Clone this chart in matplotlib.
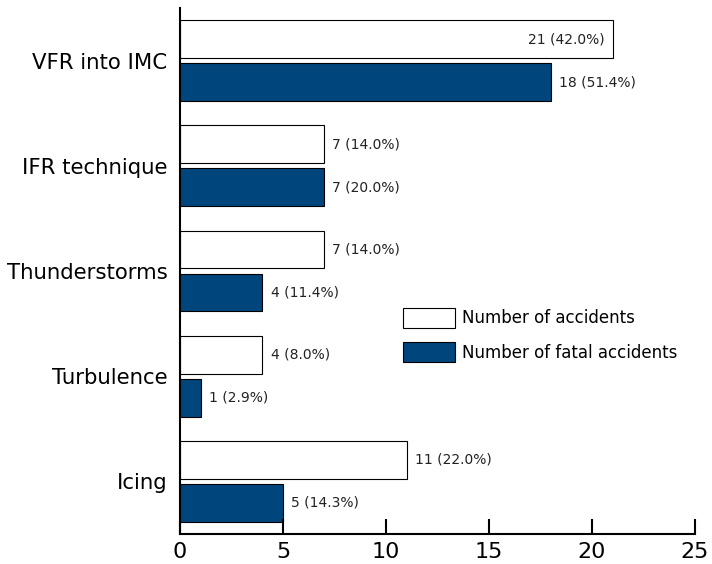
import numpy as np
import matplotlib
matplotlib.use("Agg")
from matplotlib import pyplot as plt

categories = ['VFR into IMC', 'IFR technique', 'Thunderstorms', 'Turbulence', 'Icing']
accidents = [21, 7, 7, 4, 11]
fatal = [18, 7, 4, 1, 5]
acc_pct = ['42.0%', '14.0%', '14.0%', '8.0%', '22.0%']
fatal_pct = ['51.4%', '20.0%', '11.4%', '2.9%', '14.3%']

navy = '#00457C'
plt.rcParams['font.family'] = ['DejaVu Sans']

fig = plt.figure(figsize=(7.12, 5.64), dpi=100)
ax = fig.add_axes([180/712, 1-534/564, 515/712, 526/564])

y = np.arange(len(categories))
h = 0.36
off = 0.204
ax.barh(y - off, accidents, height=h, color='white', edgecolor='black', linewidth=0.8,
        label='Number of accidents')
ax.barh(y + off, fatal, height=h, color=navy, edgecolor='black', linewidth=0.8,
        label='Number of fatal accidents')

# value labels: inside the bar when it is long, otherwise just past its end
for i in range(len(categories)):
    inside = accidents[i] > 20
    ax.text(accidents[i] - 0.4 if inside else accidents[i] + 0.4, y[i] - off,
            f'{accidents[i]} ({acc_pct[i]})', va='center',
            ha='right' if inside else 'left', fontsize=10, color='#222222')
    ax.text(fatal[i] + 0.4, y[i] + off, f'{fatal[i]} ({fatal_pct[i]})', va='center',
            ha='left', fontsize=10, color='#222222')

ax.set_xlim(0, 25)
ax.set_ylim(len(categories) - 0.5, -0.5)
ax.set_xticks(range(0, 26, 5))
ax.set_yticks(y)
ax.set_yticklabels(categories, fontsize=15.3)
ax.tick_params(axis='y', length=0, pad=9)
ax.tick_params(axis='x', direction='in', length=11, width=1.5, labelsize=16, pad=6)
for s in ['top', 'right']:
    ax.spines[s].set_visible(False)
ax.spines['left'].set_linewidth(1.5)
ax.spines['bottom'].set_linewidth(1.5)

ax.legend(loc='upper left', bbox_to_anchor=(223/515, 226/526), frameon=False, fontsize=12,
          borderpad=0, borderaxespad=0, handlelength=3.1, handleheight=1.45,
          handletextpad=0.42, labelspacing=0.88)

fig.savefig('out.png', dpi=100)
